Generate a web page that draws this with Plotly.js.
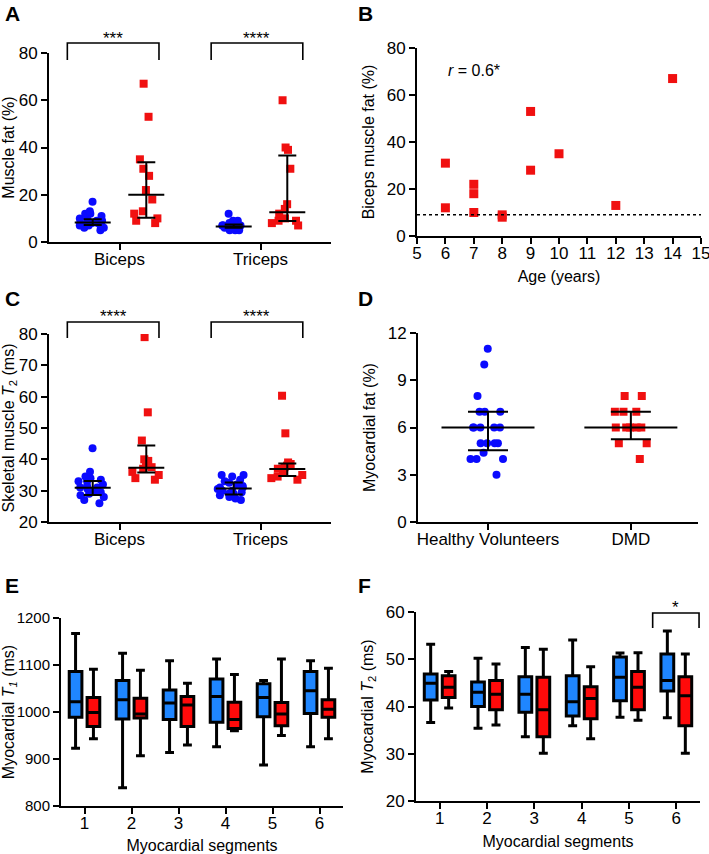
<!DOCTYPE html>
<html>
<head>
<meta charset="utf-8">
<script src="https://cdn.plot.ly/plotly-3.0.1.min.js"></script>
<style>
  body { margin: 0; background: #fff; }
  #chart { width: 709px; height: 854px; }
</style>
</head>
<body>
<div id="chart"></div>
<script>
width = 709;
height = 854;

// ---- A: muscle fat (%) ----
var muscles = ['Biceps', 'Triceps'];
var fatBicepsHV = [17, 13, 12, 12, 11, 10, 10, 9, 9, 9, 8, 8, 8, 8, 7, 7, 7, 6, 6, 5];
var fatTricepsHV = [12, 9, 9, 8, 8, 8, 7, 7, 7, 7, 7, 7, 6, 6, 6, 6, 6, 5, 5, 5];
var fatBicepsDMD = [67, 53, 35, 31, 28, 22, 18, 13, 12, 10, 9, 8];
var fatTricepsDMD = [60, 40, 39, 31, 16, 14, 12, 10, 9, 9, 8, 7];
var fatMedianHV = [8.3, 6.6];
var fatQ1HV = [7.2, 6.0];
var fatQ3HV = [9.6, 7.4];
var fatMedianDMD = [20, 12.6];
var fatQ1DMD = [10.3, 8.9];
var fatQ3DMD = [33.8, 36.6];

// ---- B: age of the DMD boys (same order as fatBicepsDMD) ----
var ageDMD = [14, 9, 10, 6, 9, 7, 7, 12, 6, 7, 8, 8];
var hvBicepsFatRef = 9;

// ---- C: skeletal muscle T2 (ms) ----
var t2BicepsHV = [43.5, 36, 34.5, 34, 33.5, 33, 33, 32, 31.5, 31, 31, 30.5, 30, 30, 29.5, 29, 28.5, 28, 27, 26];
var t2TricepsHV = [35, 35, 34.5, 33.5, 33, 32.5, 32, 31.5, 31, 31, 30.5, 30, 30, 29.5, 29, 29, 28.5, 28, 27.5, 27];
var t2BicepsDMD = [79, 55, 46, 40, 39.5, 38, 37.5, 37, 36, 35, 34, 33.5];
var t2TricepsDMD = [60.3, 48.3, 39, 38.5, 38, 37.5, 37, 36, 35, 34.5, 34, 33.5];
var t2MedianHV = [30.9, 30.7];
var t2Q1HV = [28.6, 28.8];
var t2Q3HV = [33.1, 32.6];
var t2MedianDMD = [37.3, 36.9];
var t2Q1DMD = [35.8, 34.7];
var t2Q3DMD = [44.4, 38.7];

// ---- D: myocardial fat (%) ----
var groups = ['Healthy Volunteers', 'DMD'];
var myoFatHV = [11, 10, 8, 7, 7, 7, 6, 6, 6, 6, 6, 5, 5, 5, 5, 4.4, 4, 4, 4, 3];
var myoFatDMD = [8, 8, 7, 7, 7, 6, 6, 6, 6, 6, 5, 5, 4];
var myoFatMedian = [6, 6];
var myoFatQ1 = [4.55, 5.25];
var myoFatQ3 = [7, 7];

// ---- E: myocardial T1 (ms) per segment ----
var segments = [1, 2, 3, 4, 5, 6];
var t1HVlow = [923, 839, 914, 926, 887, 926];
var t1HVq1 = [989, 985, 984, 978, 990, 997];
var t1HVmed = [1022, 1026, 1019, 1033, 1031, 1045];
var t1HVq3 = [1086, 1067, 1047, 1070, 1060, 1086];
var t1HVhigh = [1167, 1125, 1109, 1113, 1067, 1109];
var t1DMDlow = [943, 907, 930, 960, 950, 943];
var t1DMDq1 = [969, 987, 969, 965, 971, 989];
var t1DMDmed = [999, 996, 1015, 984, 996, 1006];
var t1DMDq3 = [1031, 1029, 1033, 1021, 1020, 1026];
var t1DMDhigh = [1091, 1089, 1061, 1080, 1113, 1093];

// ---- F: myocardial T2 (ms) per segment ----
var mt2HVlow = [36.6, 35.4, 33.6, 35.9, 37.7, 37.6];
var mt2HVq1 = [41.4, 40.0, 38.8, 38.0, 41.2, 43.3];
var mt2HVmed = [44.9, 43.0, 42.6, 41.0, 46.2, 45.5];
var mt2HVq3 = [46.9, 45.2, 46.3, 46.5, 50.5, 51.1];
var mt2HVhigh = [53.2, 50.2, 52.5, 54.1, 51.3, 56.0];
var mt2DMDlow = [39.7, 36.1, 30.1, 33.2, 37.1, 30.1];
var mt2DMDq1 = [41.9, 39.3, 33.6, 37.4, 39.3, 35.9];
var mt2DMDmed = [44.1, 42.6, 39.3, 41.7, 44.1, 42.3];
var mt2DMDq3 = [46.5, 45.5, 46.2, 44.2, 47.4, 46.3];
var mt2DMDhigh = [47.4, 49.0, 52.1, 48.4, 51.4, 51.1];

var BLUE = '#0a0aff';
var RED = '#f01010';
var BOX_BLUE = '#1f86ff';
var BOX_RED = '#ff0a0a';
var FONT = 'Liberation Sans, Arial, sans-serif';

// pixel helpers -> paper coords
function px(x) { return x / width; }
function py(y) { return 1 - y / height; }

function repeat(label, n) { return Array(n).fill(label); }
function diff(a, b) { return a.map(function (v, i) { return v - b[i]; }); }

function swarm(xa, ya, cats, series, color, symbol, group, jitter) {
  var xs = [], ys = [];
  series.forEach(function (vals, i) {
    xs = xs.concat(repeat(cats[i], vals.length));
    ys = ys.concat(vals);
  });
  return {
    type: 'box', x: xs, y: ys, xaxis: xa, yaxis: ya,
    boxpoints: 'all', jitter: jitter, pointpos: 0,
    fillcolor: 'rgba(0,0,0,0)', line: {width: 0, color: 'rgba(0,0,0,0)'},
    marker: {color: color, size: 8, symbol: symbol},
    offsetgroup: group, hoverinfo: 'skip', showlegend: false
  };
}

// line-ew markers are drawn 1.4x their size, so lineLen is divided back
function medianIQR(xa, ya, cats, med, q1, q3, group, lineLen, cap) {
  return {
    type: 'scatter', mode: 'markers', x: cats, y: med, xaxis: xa, yaxis: ya,
    offsetgroup: group,
    marker: {symbol: 'line-ew', size: lineLen / 1.4, color: 'black', line: {width: 2, color: 'black'}},
    error_y: {type: 'data', symmetric: false, array: diff(q3, med), arrayminus: diff(med, q1),
      color: 'black', thickness: 2, width: cap},
    hoverinfo: 'skip', showlegend: false
  };
}

function boxes(xa, ya, low, q1, med, q3, high, fill, group) {
  return {
    type: 'box', x: segments, q1: q1, median: med, q3: q3,
    lowerfence: low, upperfence: high, xaxis: xa, yaxis: ya,
    fillcolor: fill, line: {color: 'black', width: 3}, whiskerwidth: 0.7,
    boxpoints: false, offsetgroup: group, hoverinfo: 'skip', showlegend: false
  };
}

var data = [
  swarm('x', 'y', muscles, [fatBicepsHV, fatTricepsHV], BLUE, 'circle', 'hv', 0.9),
  swarm('x', 'y', muscles, [fatBicepsDMD, fatTricepsDMD], RED, 'square', 'dmd', 0.9),
  medianIQR('x', 'y', muscles, fatMedianHV, fatQ1HV, fatQ3HV, 'hv', 36, 9),
  medianIQR('x', 'y', muscles, fatMedianDMD, fatQ1DMD, fatQ3DMD, 'dmd', 36, 9),
  {
    type: 'scatter', mode: 'markers', x: ageDMD, y: fatBicepsDMD, xaxis: 'x2', yaxis: 'y2',
    marker: {symbol: 'square', size: 9, color: RED}, hoverinfo: 'skip', showlegend: false
  },
  swarm('x3', 'y3', muscles, [t2BicepsHV, t2TricepsHV], BLUE, 'circle', 'hv', 0.9),
  swarm('x3', 'y3', muscles, [t2BicepsDMD, t2TricepsDMD], RED, 'square', 'dmd', 0.9),
  medianIQR('x3', 'y3', muscles, t2MedianHV, t2Q1HV, t2Q3HV, 'hv', 36, 9),
  medianIQR('x3', 'y3', muscles, t2MedianDMD, t2Q1DMD, t2Q3DMD, 'dmd', 36, 9),
  swarm('x4', 'y4', [groups[0]], [myoFatHV], BLUE, 'circle', 'all', 0.6),
  swarm('x4', 'y4', [groups[1]], [myoFatDMD], RED, 'square', 'all', 0.6),
  medianIQR('x4', 'y4', groups, myoFatMedian, myoFatQ1, myoFatQ3, 'all', 93, 20),
  boxes('x5', 'y5', t1HVlow, t1HVq1, t1HVmed, t1HVq3, t1HVhigh, BOX_BLUE, 'hv'),
  boxes('x5', 'y5', t1DMDlow, t1DMDq1, t1DMDmed, t1DMDq3, t1DMDhigh, BOX_RED, 'dmd'),
  boxes('x6', 'y6', mt2HVlow, mt2HVq1, mt2HVmed, mt2HVq3, mt2HVhigh, BOX_BLUE, 'hv'),
  boxes('x6', 'y6', mt2DMDlow, mt2DMDq1, mt2DMDmed, mt2DMDq3, mt2DMDhigh, BOX_RED, 'dmd')
];

function axis(extra) {
  return Object.assign({
    showline: true, linecolor: 'black', linewidth: 2,
    ticks: 'outside', ticklen: 6, tickwidth: 2, tickcolor: 'black',
    showgrid: false, zeroline: false, fixedrange: true,
    ticklabeloverflow: 'allow',
    tickfont: {family: FONT, size: 17, color: 'black'}
  }, extra);
}
// x axes: labels sit right under the tick marks, as in the original
function xaxis(extra) {
  return axis(Object.assign({ticklabelstandoff: -5}, extra));
}
function title(text, standoff) {
  return {text: text, standoff: standoff, font: {family: FONT, size: 16, color: 'black'}};
}

// significance bracket drawn with x in data units, y in pixels
function bracket(xref, x0, x1, yTop, yLeg) {
  return {
    type: 'path', xref: xref, yref: 'paper',
    path: 'M' + x0 + ',' + py(yLeg) + 'L' + x0 + ',' + py(yTop) + 'L' + x1 + ',' + py(yTop) + 'L' + x1 + ',' + py(yLeg),
    line: {color: 'black', width: 1.6}
  };
}
function stars(xref, x, yBottom, text) {
  return {
    xref: xref, yref: 'paper', x: x, y: py(yBottom), xanchor: 'center', yanchor: 'bottom',
    text: text, showarrow: false, font: {family: FONT, size: 17, color: 'black'}
  };
}
function letter(text, x, y) {
  return {
    xref: 'paper', yref: 'paper', x: px(x), y: py(y), xanchor: 'left', yanchor: 'top',
    text: '<b>' + text + '</b>', showarrow: false, font: {family: FONT, size: 21, color: 'black'}
  };
}

var layout = {
  width: width, height: height,
  margin: {l: 0, r: 0, t: 0, b: 0},
  paper_bgcolor: 'white', plot_bgcolor: 'white',
  showlegend: false,
  boxmode: 'group', boxgap: 0.24, boxgroupgap: 0.29,
  scattermode: 'group', scattergap: 0.24,
  font: {family: FONT, color: 'black'},

  xaxis: xaxis({domain: [px(49), px(331)], anchor: 'y', type: 'category', categoryarray: muscles, range: [-0.5, 1.5]}),
  yaxis: axis({domain: [py(242), py(53)], anchor: 'x', range: [0, 80], dtick: 20, title: title('Muscle fat (%)')}),

  xaxis2: xaxis({domain: [px(417), px(701)], anchor: 'y2', range: [5, 15], dtick: 1, title: title('Age (years)', 8)}),
  yaxis2: axis({domain: [py(236), py(48)], anchor: 'x2', range: [0, 80], dtick: 20, title: title('Biceps muscle fat (%)')}),

  xaxis3: xaxis({domain: [px(49), px(331)], anchor: 'y3', type: 'category', categoryarray: muscles, range: [-0.5, 1.5]}),
  yaxis3: axis({domain: [py(522), py(334)], anchor: 'x3', range: [20, 80], dtick: 10,
    title: title('Skeletal muscle <i>T</i><sub>2</sub> (ms)')}),

  xaxis4: xaxis({domain: [px(418), px(698)], anchor: 'y4', type: 'category', categoryarray: groups, range: [-0.49, 1.47]}),
  yaxis4: axis({domain: [py(522), py(333)], anchor: 'x4', range: [0, 12], dtick: 3, title: title('Myocardial fat (%)')}),

  xaxis5: xaxis({domain: [px(61), px(343)], anchor: 'y5', range: [0.5, 6.5], dtick: 1, title: title('Myocardial segments', 8)}),
  yaxis5: axis({domain: [py(806), py(618)], anchor: 'x5', range: [800, 1200], dtick: 100,
    tickfont: {family: FONT, size: 15, color: 'black'},
    title: title('Myocardial <i>T</i><sub><i>1</i></sub> (ms)')}),

  xaxis6: xaxis({domain: [px(416), px(700)], anchor: 'y6', range: [0.5, 6.5], dtick: 1, title: title('Myocardial segments', 8)}),
  yaxis6: axis({domain: [py(801), py(612)], anchor: 'x6', range: [20, 60], dtick: 10,
    title: title('Myocardial <i>T</i><sub>2</sub> (ms)')}),

  shapes: [
    bracket('x', -0.37, 0.28, 43, 60),
    bracket('x', 0.65, 1.3, 43, 60),
    bracket('x3', -0.37, 0.28, 322, 338),
    bracket('x3', 0.65, 1.3, 322, 338),
    bracket('x6', 5.5, 6.48, 613, 628),
    {type: 'line', xref: 'x2', yref: 'y2', x0: 5, x1: 15, y0: hvBicepsFatRef, y1: hvBicepsFatRef,
      line: {color: 'black', width: 1.5, dash: 'dot'}}
  ],
  annotations: [
    stars('x', -0.045, 50, '***'),
    stars('x', 0.975, 50, '****'),
    stars('x3', -0.045, 328, '****'),
    stars('x3', 0.975, 328, '****'),
    stars('x6', 5.99, 619, '*'),
    {xref: 'paper', yref: 'paper', x: px(446), y: py(71), xanchor: 'left', yanchor: 'middle',
      text: '<i>r</i> = 0.6*', showarrow: false, font: {family: FONT, size: 16, color: 'black'}},
    letter('A', 3, 0), letter('B', 356, 0),
    letter('C', 3, 285), letter('D', 356, 285),
    letter('E', 3, 572), letter('F', 356, 572)
  ]
};

Plotly.newPlot('chart', data, layout, {displayModeBar: false, staticPlot: true});
</script>
</body>
</html>
